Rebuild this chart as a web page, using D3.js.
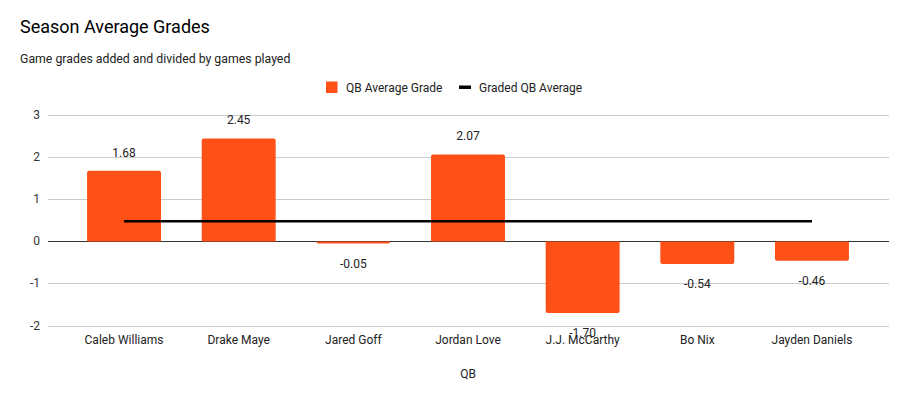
<!DOCTYPE html>
<html>
<head>
<meta charset="utf-8">
<script src="https://cdn.jsdelivr.net/npm/d3@7"></script>
<style>
  body { margin: 0; background: #fff; }
  text { font-family: Roboto, "Noto Sans", sans-serif; }
</style>
</head>
<body>
<div id="chart"></div>
<script>
var players = ["Caleb Williams", "Drake Maye", "Jared Goff", "Jordan Love", "J.J. McCarthy", "Bo Nix", "Jayden Daniels"];
var grades = [1.68, 2.45, -0.05, 2.07, -1.70, -0.54, -0.46];
var gradedAverage = [0.48, 0.48, 0.48, 0.48, 0.48, 0.48, 0.48];
var yTicks = [-2, -1, 0, 1, 2, 3];

var width = 909, height = 400;
var svg = d3.select("#chart").append("svg")
    .attr("width", width)
    .attr("height", height);

svg.append("text").attr("x", 20).attr("y", 33)
    .style("font-size", "18px").style("fill", "#000")
    .text("Season Average Grades");
svg.append("text").attr("x", 20).attr("y", 63)
    .style("font-size", "12.3px").style("fill", "#222")
    .text("Game grades added and divided by games played");

// legend
svg.append("rect").attr("x", 326).attr("y", 81.5).attr("width", 11.5).attr("height", 11.5)
    .attr("fill", "#ff5117");
svg.append("text").attr("x", 346).attr("y", 91.5)
    .style("font-size", "12px").style("fill", "#222").text("QB Average Grade");
svg.append("rect").attr("x", 459).attr("y", 85.5).attr("width", 12).attr("height", 3.5)
    .attr("fill", "#000");
svg.append("text").attr("x", 479).attr("y", 91.5)
    .style("font-size", "12px").style("fill", "#222").text("Graded QB Average");

var y = d3.scaleLinear().domain([-2, 3]).range([325.5, 115.3]);
var x = d3.scalePoint().domain(players).range([66.7, 869.3]).padding(0.5);
var bw = x.step() * 0.645;

// grid
svg.selectAll("line.grid").data(yTicks).enter().append("line")
    .attr("class", "grid")
    .attr("x1", 48).attr("x2", 889)
    .attr("y1", function (d) { return Math.round(y(d)) + 0.5; })
    .attr("y2", function (d) { return Math.round(y(d)) + 0.5; })
    .attr("stroke", function (d) { return d === 0 ? "#333" : "#ccc"; })
    .attr("stroke-width", 1);

svg.selectAll("text.ytick").data(yTicks).enter().append("text")
    .attr("class", "ytick")
    .attr("x", 40).attr("y", function (d) { return y(d) + 4; })
    .style("text-anchor", "end").style("font-size", "12px").style("fill", "#333")
    .text(function (d) { return d; });

// bars
svg.selectAll("rect.bar").data(grades).enter().append("path")
    .attr("class", "bar")
    .attr("fill", "#ff5117")
    .attr("d", function (d, i) {
        var x0 = x(players[i]) - bw / 2, x1 = x0 + bw;
        var y0 = y(0), y1 = y(d), r = Math.min(2, Math.abs(y1 - y0));
        var s = y1 < y0 ? 1 : -1;
        return "M" + x0 + "," + y0 + "L" + x0 + "," + (y1 + s * r) +
            "Q" + x0 + "," + y1 + " " + (x0 + r) + "," + y1 +
            "L" + (x1 - r) + "," + y1 +
            "Q" + x1 + "," + y1 + " " + x1 + "," + (y1 + s * r) +
            "L" + x1 + "," + y0 + "Z";
    });

// average line
var line = d3.line()
    .x(function (d, i) { return x(players[i]); })
    .y(function (d) { return y(d); });
svg.append("path").datum(gradedAverage)
    .attr("d", line).attr("fill", "none")
    .attr("stroke", "#000").attr("stroke-width", 2.5);

// value labels
svg.selectAll("text.val").data(grades).enter().append("text")
    .attr("class", "val")
    .attr("x", function (d, i) { return x(players[i]); })
    .attr("y", function (d) { return d >= 0 ? y(d) - 14 : y(d) + 24; })
    .style("text-anchor", "middle").style("font-size", "12px").style("fill", "#222")
    .text(function (d) { return d.toFixed(2); });

// x labels
svg.selectAll("text.xl").data(players).enter().append("text")
    .attr("class", "xl")
    .attr("x", function (d) { return x(d); }).attr("y", 344)
    .style("text-anchor", "middle").style("font-size", "12px").style("fill", "#222")
    .text(function (d) { return d; });

svg.append("text").attr("x", 468).attr("y", 378)
    .style("text-anchor", "middle").style("font-size", "12px").style("fill", "#222")
    .text("QB");
</script>
</body>
</html>
